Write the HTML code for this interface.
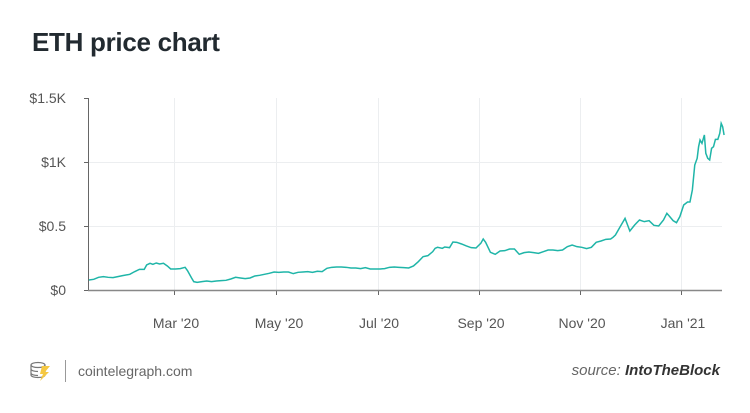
<!DOCTYPE html>
<html><head><meta charset="utf-8"><style>
body{margin:0;background:#fff;width:750px;height:413px;overflow:hidden;font-family:"Liberation Sans",sans-serif;position:relative}
.t{position:absolute;left:32px;top:27px;font-size:26px;font-weight:bold;color:#222a30;letter-spacing:-0.3px}
.yl{position:absolute;right:684px;font-size:14px;color:#555;text-align:right}
.xl{position:absolute;top:315px;font-size:14px;color:#555;width:80px;margin-left:-40px;text-align:center}
</style></head><body>
<div class="t">ETH price chart</div>
<div class="yl" style="top:90px">$1.5K</div>
<div class="yl" style="top:154px">$1K</div>
<div class="yl" style="top:218px">$0.5</div>
<div class="yl" style="top:282px">$0</div>
<div class="xl" style="left:176px">Mar '20</div>
<div class="xl" style="left:279px">May '20</div>
<div class="xl" style="left:379px">Jul '20</div>
<div class="xl" style="left:481px">Sep '20</div>
<div class="xl" style="left:582px">Nov '20</div>
<div class="xl" style="left:683px">Jan '21</div>
<svg width="750" height="413" style="position:absolute;left:0;top:0">
<g stroke="#eceef0" stroke-width="1">
<line x1="88" x2="722" y1="162.5" y2="162.5"/><line x1="88" x2="722" y1="226.5" y2="226.5"/>
<line x1="174.5" x2="174.5" y1="98" y2="290"/><line x1="276.5" x2="276.5" y1="98" y2="290"/>
<line x1="378.5" x2="378.5" y1="98" y2="290"/><line x1="479.5" x2="479.5" y1="98" y2="290"/>
<line x1="580.5" x2="580.5" y1="98" y2="290"/><line x1="681.5" x2="681.5" y1="98" y2="290"/>
</g>
<g stroke="#666" stroke-width="1">
<line x1="88.5" x2="88.5" y1="98" y2="290"/><line x1="84" x2="88" y1="98.5" y2="98.5"/>
<line x1="84" x2="88" y1="162.5" y2="162.5"/><line x1="84" x2="88" y1="226.5" y2="226.5"/>
<line x1="84" x2="88" y1="290.5" y2="290.5"/>
<line x1="174.5" x2="174.5" y1="290" y2="295"/><line x1="276.5" x2="276.5" y1="290" y2="295"/>
<line x1="378.5" x2="378.5" y1="290" y2="295"/><line x1="479.5" x2="479.5" y1="290" y2="295"/>
<line x1="580.5" x2="580.5" y1="290" y2="295"/><line x1="681.5" x2="681.5" y1="290" y2="295"/>
</g>
<line x1="88" x2="722" y1="290.5" y2="290.5" stroke="#888" stroke-width="1.5"/>
<g transform="translate(0,80) scale(0.4808,0.3333)">
<polyline fill="none" stroke="#1fb5a8" stroke-width="1.5" vector-effect="non-scaling-stroke" points="185,600 195,598 205,592 215,590 225,592 235,593 245,590 255,587 270,583 280,575 290,568 300,568 305,555 312,550 318,553 325,549 332,552 340,550 348,558 355,567 365,567 375,566 385,562 390,572 398,593 403,605 410,607 420,605 430,603 440,605 450,603 460,602 470,601 480,597 490,592 500,594 510,596 520,594 530,588 540,586 550,583 560,580 570,576 580,577 590,576 600,576 610,581 620,577 630,576 640,575 650,577 660,574 670,575 680,565 690,562 700,561 710,561 720,562 730,564 740,564 750,566 760,563 770,567 780,567 790,567 800,566 810,562 820,561 830,562 840,563 850,564 860,558 870,545 880,530 890,527 900,515 905,505 910,502 920,505 925,501 935,503 942,486 950,487 960,492 970,498 980,503 990,504 1000,490 1005,477 1010,487 1020,517 1030,523 1040,513 1050,512 1060,507 1070,507 1080,523 1090,518 1100,516 1110,518 1120,520 1130,515 1140,510 1150,510 1160,512 1170,510 1180,500 1190,495 1200,500 1210,502 1220,506 1230,502 1240,487 1250,483 1260,478 1270,477 1275,472 1280,465 1290,440 1300,415 1310,453 1320,435 1330,420 1340,425 1350,422 1360,436 1370,438 1380,420 1387,400 1393,410 1400,422 1407,428 1414,410 1422,375 1430,366 1435,366 1440,330 1445,255 1450,235 1453,200 1456,180 1460,190 1465,165 1468,220 1472,235 1476,240 1480,205 1484,200 1488,178 1493,178 1497,160 1500,130 1503,140 1506,165"/>
</g>
<g transform="translate(30,362)">
<ellipse cx="8" cy="3" rx="7" ry="2.5" fill="none" stroke="#777" stroke-width="1.2"/>
<path d="M1 3v10c0 1.5 3 2.5 7 2.5s7-1 7-2.5V3M1 7c0 1.5 3 2.5 7 2.5M1 11c0 1.5 3 2.5 7 2.5" fill="none" stroke="#777" stroke-width="1.2"/>
<path d="M12 4h8l-5 6h4l-9 9 3-7h-3z" fill="#f5c842"/>
</g>
<line x1="65.5" x2="65.5" y1="360" y2="382" stroke="#999"/>
</svg>
<div style="position:absolute;left:78px;top:363px;font-size:14px;color:#666">cointelegraph.com</div>
<div style="position:absolute;right:30px;top:362px;font-size:15px;color:#666;font-style:italic">source: <b style="color:#333">IntoTheBlock</b></div>
</body></html>
